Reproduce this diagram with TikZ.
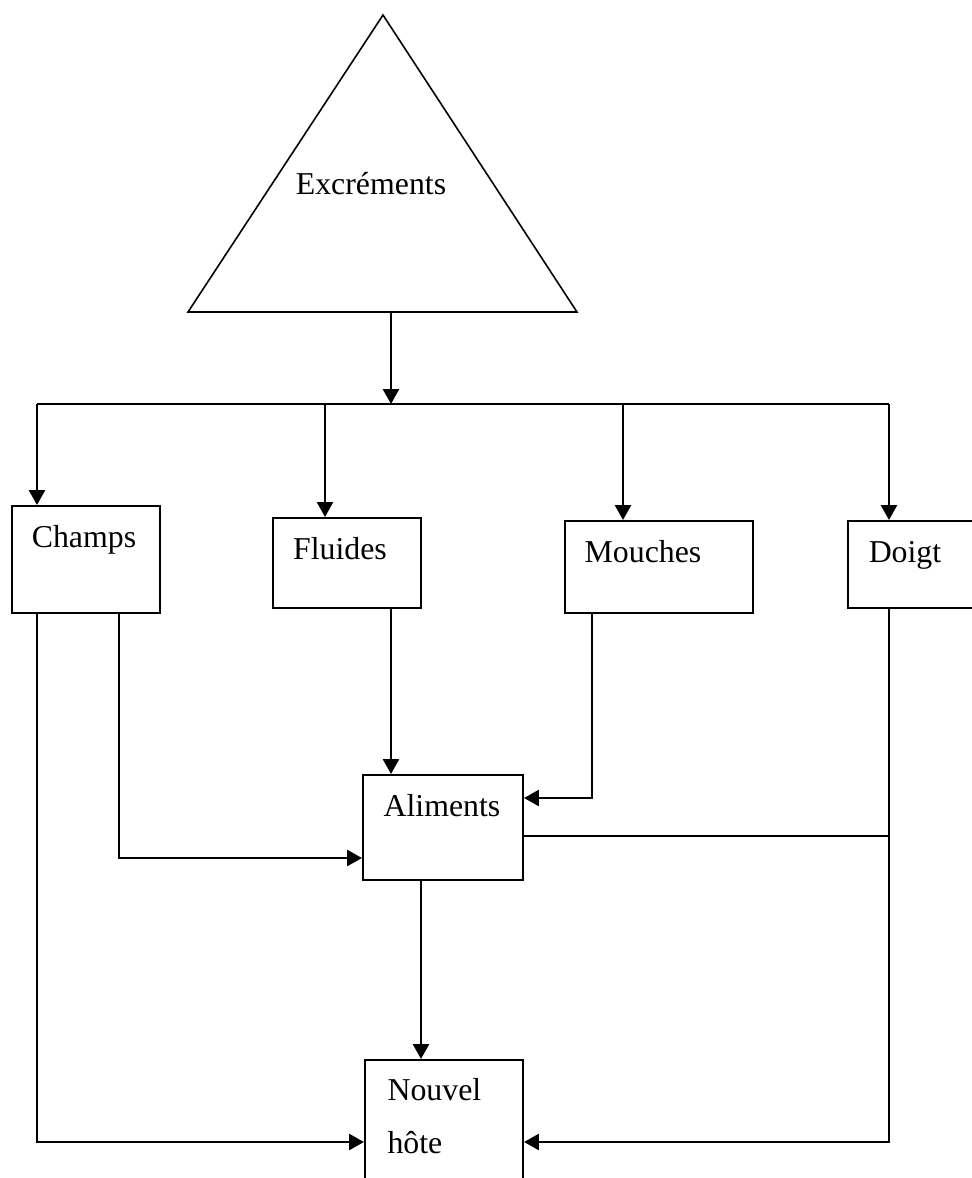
\documentclass[tikz,border=0pt]{standalone}
\usepackage{fontspec}
\setmainfont{Liberation Serif}
\usetikzlibrary{arrows.meta,fit}
\tikzset{
  boite/.style={draw,line width=0.75pt,inner sep=0pt},
  etiq/.style={font=\fontsize{12}{14}\selectfont,inner sep=0pt},
  fleche/.style={line width=0.9pt,-{Triangle[length=5.6pt,width=6pt]}},
  trait/.style={line width=0.9pt}
}
% a box given by two corners, then its text at a baseline point
\newcommand{\boite}[8][base]{
  \node[boite,fit={(#3,#4) (#5,#6)}] (#2) {};
  \node[etiq,anchor=#1] (#2txt) at (#7) {#8};% text of the box
}

\begin{document}
\begin{tikzpicture}[x=0.377pt,y=-0.377pt]
  \useasboundingbox (0,0) rectangle (972,1178);
  \clip (0,0) rectangle (972,1178);

  % the triangle on top
  \draw[line width=0.6pt] (383,15) -- (577,312) -- (188,312) -- cycle;
  \node[etiq,anchor=base] (excr) at (371,194) {Excréments};
  \coordinate (tribase) at (391,312);
  \coordinate (jonction) at (391,404);

  \boite{champs}{12}{506}{160}{613}{84,547}{Champs}
  \boite{fluides}{273}{518}{421}{608}{340,559}{Fluides}
  \boite{mouches}{565}{521}{753}{613}{643,562}{Mouches}
  \boite{doigt}{848}{521}{1000}{608}{905,562}{Doigt}
  \boite{aliments}{363}{775}{523}{880}{442,816}{Aliments}
  \boite[base west]{nouvel}{365}{1060}{523}{1200}{387,1100}{Nouvel}
  \node[etiq,anchor=base west] (hote) at (387,1153) {hôte};

  \draw[fleche] (tribase) -- (jonction);
  \draw[trait] (37,404) -- (889,404);
  \draw[fleche] (37,404) -- (champs.north -| 37,0);
  \draw[fleche] (325,404) -- (fluides.north -| 325,0);
  \draw[fleche] (623,404) -- (mouches.north -| 623,0);
  \draw[fleche] (889,404) -- (doigt.north -| 889,0);

  \draw[fleche] (champs.south -| 37,0) |- (nouvel.west |- 0,1142);
  \draw[fleche] (champs.south -| 119,0) |- (aliments.west |- 0,858);
  \draw[fleche] (fluides.south -| 391,0) -- (aliments.north -| 391,0);
  \draw[fleche] (mouches.south -| 592,0) |- (aliments.east |- 0,798);
  \draw[trait] (aliments.east |- 0,836) -- (889,836);
  \draw[fleche] (doigt.south -| 889,0) |- (nouvel.east |- 0,1142);
  \draw[fleche] (aliments.south -| 421,0) -- (nouvel.north -| 421,0);
\end{tikzpicture}
\end{document}
